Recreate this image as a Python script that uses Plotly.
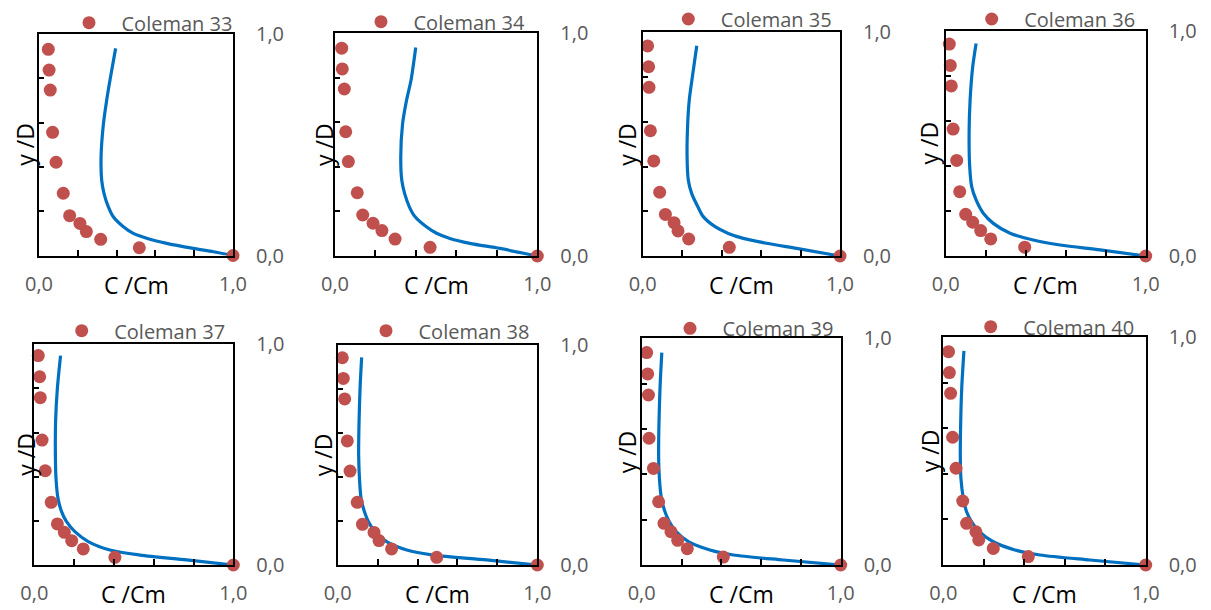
import plotly.graph_objects as go

W, H = 1211, 610

# ---------------- data ----------------
labels = ["Coleman 33", "Coleman 34", "Coleman 35", "Coleman 36",
          "Coleman 37", "Coleman 38", "Coleman 39", "Coleman 40"]

# measured C/Cm (x) and y/D (y)
c33_meas_x = [0.048, 0.052, 0.058, 0.070, 0.088, 0.125, 0.158, 0.211, 0.244, 0.318, 0.517, 1.0]
c33_meas_y = [0.931, 0.837, 0.747, 0.556, 0.421, 0.281, 0.180, 0.145, 0.108, 0.073, 0.035, 0.0]
c34_meas_x = [0.033, 0.036, 0.046, 0.053, 0.066, 0.110, 0.137, 0.188, 0.232, 0.297, 0.470, 1.0]
c34_meas_y = [0.933, 0.840, 0.750, 0.558, 0.424, 0.284, 0.184, 0.147, 0.114, 0.076, 0.039, 0.0]
c35_meas_x = [0.025, 0.030, 0.032, 0.039, 0.056, 0.086, 0.115, 0.159, 0.179, 0.233, 0.439, 1.0]
c35_meas_y = [0.939, 0.846, 0.754, 0.560, 0.425, 0.285, 0.186, 0.149, 0.112, 0.076, 0.039, 0.0]
c36_meas_x = [0.018, 0.023, 0.028, 0.037, 0.055, 0.070, 0.100, 0.135, 0.175, 0.225, 0.395, 1.0]
c36_meas_y = [0.942, 0.847, 0.756, 0.564, 0.425, 0.286, 0.185, 0.150, 0.113, 0.076, 0.039, 0.0]
c37_meas_x = [0.020, 0.027, 0.030, 0.039, 0.055, 0.085, 0.116, 0.151, 0.188, 0.246, 0.405, 1.0]
c37_meas_y = [0.949, 0.853, 0.758, 0.566, 0.427, 0.284, 0.186, 0.148, 0.110, 0.073, 0.035, 0.0]
c38_meas_x = [0.023, 0.028, 0.035, 0.048, 0.062, 0.098, 0.124, 0.182, 0.207, 0.270, 0.496, 1.0]
c38_meas_y = [0.942, 0.848, 0.755, 0.564, 0.427, 0.285, 0.185, 0.148, 0.111, 0.073, 0.035, 0.0]
c39_meas_x = [0.025, 0.030, 0.034, 0.037, 0.059, 0.085, 0.112, 0.147, 0.181, 0.229, 0.410, 1.0]
c39_meas_y = [0.937, 0.843, 0.750, 0.559, 0.426, 0.279, 0.184, 0.147, 0.109, 0.072, 0.035, 0.0]
c40_meas_x = [0.026, 0.030, 0.036, 0.046, 0.063, 0.096, 0.115, 0.161, 0.175, 0.247, 0.420, 1.0]
c40_meas_y = [0.937, 0.845, 0.754, 0.561, 0.425, 0.281, 0.183, 0.146, 0.110, 0.073, 0.037, 0.0]

# model profiles
c33_model_x = [0.395, 0.366, 0.349, 0.332, 0.320, 0.323, 0.335, 0.357, 0.383, 0.435, 0.486, 0.555, 0.658, 0.796, 0.899, 1.0]
c33_model_y = [0.935, 0.792, 0.702, 0.594, 0.446, 0.341, 0.281, 0.221, 0.175, 0.130, 0.100, 0.078, 0.055, 0.032, 0.017, 0.0]
c34_model_x = [0.399, 0.376, 0.354, 0.334, 0.325, 0.330, 0.344, 0.367, 0.395, 0.450, 0.502, 0.568, 0.667, 0.815, 1.0]
c34_model_y = [0.936, 0.790, 0.701, 0.593, 0.446, 0.341, 0.281, 0.222, 0.177, 0.132, 0.102, 0.079, 0.057, 0.034, 0.0]
c35_model_x = [0.274, 0.252, 0.236, 0.228, 0.225, 0.231, 0.248, 0.279, 0.307, 0.367, 0.434, 0.510, 0.628, 0.780, 1.0]
c35_model_y = [0.940, 0.802, 0.697, 0.590, 0.444, 0.340, 0.280, 0.221, 0.176, 0.131, 0.101, 0.079, 0.057, 0.034, 0.0]
c36_model_x = [0.152, 0.135, 0.122, 0.117, 0.120, 0.130, 0.152, 0.188, 0.238, 0.322, 0.438, 0.572, 0.772, 1.0]
c36_model_y = [0.945, 0.841, 0.693, 0.545, 0.397, 0.308, 0.249, 0.190, 0.145, 0.101, 0.071, 0.049, 0.027, 0.0]
c37_model_x = [0.132, 0.116, 0.107, 0.106, 0.109, 0.119, 0.137, 0.162, 0.204, 0.271, 0.380, 0.531, 0.765, 1.0]
c37_model_y = [0.949, 0.801, 0.650, 0.498, 0.393, 0.302, 0.242, 0.196, 0.151, 0.106, 0.068, 0.045, 0.023, 0.0]
c38_model_x = [0.120, 0.112, 0.107, 0.105, 0.109, 0.117, 0.134, 0.154, 0.187, 0.245, 0.346, 0.479, 0.746, 1.0]
c38_model_y = [0.944, 0.803, 0.652, 0.500, 0.394, 0.303, 0.242, 0.197, 0.152, 0.106, 0.068, 0.045, 0.023, 0.0]
c39_model_x = [0.101, 0.092, 0.087, 0.085, 0.089, 0.099, 0.117, 0.139, 0.173, 0.235, 0.343, 0.461, 0.712, 1.0]
c39_model_y = [0.937, 0.779, 0.632, 0.485, 0.382, 0.294, 0.235, 0.191, 0.147, 0.103, 0.066, 0.044, 0.022, 0.0]
c40_model_x = [0.102, 0.091, 0.086, 0.084, 0.087, 0.099, 0.115, 0.140, 0.178, 0.247, 0.354, 0.478, 0.725, 1.0]
c40_model_y = [0.940, 0.776, 0.630, 0.483, 0.381, 0.293, 0.234, 0.190, 0.146, 0.102, 0.066, 0.044, 0.022, 0.0]

meas_x = [c33_meas_x, c34_meas_x, c35_meas_x, c36_meas_x, c37_meas_x, c38_meas_x, c39_meas_x, c40_meas_x]
meas_y = [c33_meas_y, c34_meas_y, c35_meas_y, c36_meas_y, c37_meas_y, c38_meas_y, c39_meas_y, c40_meas_y]
model_x = [c33_model_x, c34_model_x, c35_model_x, c36_model_x, c37_model_x, c38_model_x, c39_model_x, c40_model_x]
model_y = [c33_model_y, c34_model_y, c35_model_y, c36_model_y, c37_model_y, c38_model_y, c39_model_y, c40_model_y]

x_tickvals = [0, 0.2, 0.4, 0.6, 0.8, 1.0]
x_ticktext = ["0,0", "", "", "", "", "1,0"]
y_tickvals = [0, 0.2, 0.4, 0.6, 0.8, 1.0]
y_label_vals = [0, 1.0]
y_label_text = ["0,0", "1,0"]

# ---------------- layout geometry (pixels) ----------------
boxes = [(39, 233, 34, 255.5), (335, 537.3, 33.3, 256), (642.7, 840, 32.3, 256), (945.7, 1145.7, 31, 256),
         (34.3, 233.3, 344.3, 565), (337.7, 537.3, 345, 565), (641.7, 840.7, 338.3, 565), (943.3, 1145.7, 337.3, 565)]
legend_pos = [(89, 22.7), (381, 21.7), (688.3, 19), (991.7, 19),
              (81.7, 330.7), (386, 330.7), (690, 328.3), (990.7, 326.7)]
ytitle_x = [25, 323.3, 626.7, 929, 26, 323.3, 626.7, 930]

FONT = "Open Sans"
GRAY = "#595959"
RED = "#C0504D"
BLUE = "#0070C0"

fig = go.Figure()
layout = dict(
    width=W, height=H, margin=dict(l=0, r=0, t=0, b=0, autoexpand=False),
    paper_bgcolor="white", plot_bgcolor="white",
    font=dict(family=FONT, size=20, color=GRAY),
    showlegend=True,
)
annotations = []

for i in range(8):
    k = i + 1
    xl, xr, yt, yb = boxes[i]
    xs = "" if k == 1 else str(k)
    ys = "" if k == 1 else str(k)
    yr = str(k + 8)
    lg = "legend" if k == 1 else f"legend{k}"

    fig.add_trace(go.Scatter(
        x=model_x[i], y=model_y[i], mode="lines", line=dict(color=BLUE, width=3.2, shape="spline", smoothing=0.8),
        xaxis="x" + xs, yaxis="y" + ys, showlegend=False, cliponaxis=False, hoverinfo="skip"))
    fig.add_trace(go.Scatter(
        x=meas_x[i], y=meas_y[i], mode="markers", name=labels[i],
        marker=dict(color=RED, size=13), xaxis="x" + xs, yaxis="y" + ys,
        legend=lg, cliponaxis=False))
    # right-hand labelled axis (carries no marks)
    fig.add_trace(go.Scatter(x=[None], y=[None], xaxis="x" + xs, yaxis="y" + yr,
                             showlegend=False, hoverinfo="skip"))

    layout["xaxis" + xs] = dict(
        domain=[xl / W, xr / W], anchor="y" + ys, range=[0, 1],
        showline=True, linecolor="black", linewidth=2, mirror=True,
        ticks="inside", ticklen=6, tickwidth=2, tickcolor="black",
        tickvals=x_tickvals, ticktext=x_ticktext, ticklabelstandoff=9,
        tickfont=dict(family=FONT, size=20, color=GRAY),
        showgrid=False, zeroline=False, fixedrange=True)
    layout["yaxis" + ys] = dict(
        domain=[1 - yb / H, 1 - yt / H], anchor="x" + xs, range=[0, 1],
        showline=True, linecolor="black", linewidth=2, mirror=True,
        ticks="inside", ticklen=5, tickwidth=2, tickcolor="black",
        tickvals=y_tickvals, showticklabels=False,
        showgrid=False, zeroline=False, fixedrange=True)
    layout["yaxis" + yr] = dict(
        domain=[1 - yb / H, 1 - yt / H], anchor="x" + xs, overlaying="y" + ys, side="right",
        range=[0, 1], showline=False, ticks="", tickvals=y_label_vals, ticktext=y_label_text,
        ticklabelstandoff=22, tickfont=dict(family=FONT, size=20, color=GRAY),
        showgrid=False, zeroline=False, fixedrange=True)
    mx, my = legend_pos[i]
    layout[lg] = dict(
        x=(mx - 32.5) / W, y=1 - my / H, xanchor="left", yanchor="middle",
        bgcolor="rgba(0,0,0,0)", borderwidth=0, itemwidth=55,
        font=dict(family=FONT, size=20, color=GRAY))

    annotations.append(dict(
        text="C /Cm", xref="paper", yref="paper", x=(xl + xr) / 2 / W, y=1 - (yb + 29) / H,
        xanchor="center", yanchor="middle", showarrow=False, borderpad=0,
        font=dict(family=FONT, size=23, color="black")))
    annotations.append(dict(
        text="y /D", xref="paper", yref="paper", x=ytitle_x[i] / W, y=1 - (yt + yb) / 2 / H,
        xanchor="center", yanchor="middle", textangle=-90, showarrow=False, borderpad=0,
        font=dict(family=FONT, size=23, color="black")))

layout["annotations"] = annotations
fig.update_layout(**layout)
fig.write_html("out.html")
